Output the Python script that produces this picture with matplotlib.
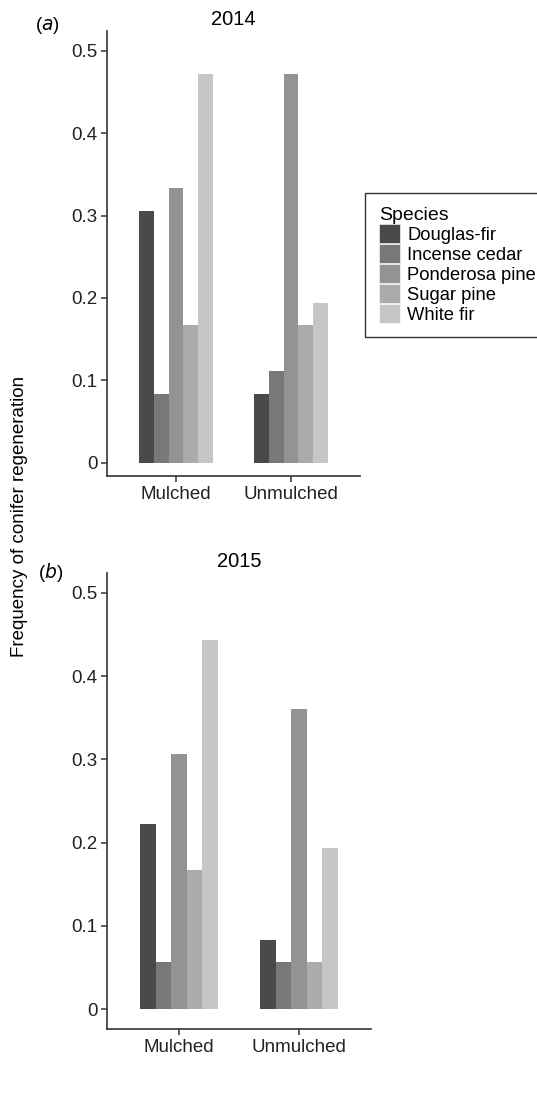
import numpy as np
import matplotlib
matplotlib.use("Agg")
import matplotlib.pyplot as plt
from matplotlib.patches import Patch

plt.rcParams['font.family'] = ['Liberation Sans', 'DejaVu Sans']

# data
treatments = ['Mulched', 'Unmulched']
species = ['Douglas-fir', 'Incense cedar', 'Ponderosa pine', 'Sugar pine', 'White fir']
colors = ['#4a4a4d', '#78787b', '#939396', '#ababae', '#c6c6c9']

freq_2014 = {
    'Douglas-fir':    [0.306, 0.083],
    'Incense cedar':  [0.083, 0.111],
    'Ponderosa pine': [0.333, 0.472],
    'Sugar pine':     [0.167, 0.167],
    'White fir':      [0.472, 0.194],
}
freq_2015 = {
    'Douglas-fir':    [0.222, 0.083],
    'Incense cedar':  [0.056, 0.056],
    'Ponderosa pine': [0.306, 0.361],
    'Sugar pine':     [0.167, 0.056],
    'White fir':      [0.444, 0.194],
}

yticks = [0, 0.1, 0.2, 0.3, 0.4, 0.5]
ytick_labels = ['0', '0.1', '0.2', '0.3', '0.4', '0.5']

W, H = 537, 1097
fig = plt.figure(figsize=(W / 100, H / 100), dpi=100)

def px_axes(x0, x1, y0, y1):
    # pixel box (top-left origin) -> figure fraction
    return fig.add_axes([x0 / W, 1 - y1 / H, (x1 - x0) / W, (y1 - y0) / H])

ax_a = px_axes(107, 360, 31, 476)
ax_b = px_axes(107, 371, 573, 1029)

bar_w = 0.13
fs = 13.5
axis_col = '#333333'

def draw_panel(ax, data, title, ybottom):
    x = np.arange(1, len(treatments) + 1)
    n = len(species)
    for i, sp in enumerate(species):
        offs = (i - (n - 1) / 2) * bar_w
        ax.bar(x + offs, data[sp], width=bar_w, color=colors[i], linewidth=0)
    ax.set_xlim(0.4, 2.6)
    ax.set_ylim(ybottom, 0.524)
    ax.set_xticks(x)
    ax.set_xticklabels(treatments, fontsize=fs, color='#222222')
    ax.set_yticks(yticks)
    ax.set_yticklabels(ytick_labels, fontsize=fs, color='#222222')
    for s in ['top', 'right']:
        ax.spines[s].set_visible(False)
    for s in ['left', 'bottom']:
        ax.spines[s].set_color(axis_col)
        ax.spines[s].set_linewidth(1.2)
    ax.tick_params(axis='both', length=4, width=1.1, color=axis_col, pad=3)
    ax.set_title(title, fontsize=14.5, pad=4)

draw_panel(ax_a, freq_2014, '2014', -0.016)
draw_panel(ax_b, freq_2015, '2015', -0.024)

fig.text(47 / W, 1 - 25 / H, r'($\it{a}$)', fontsize=fs, ha='center', va='center')
fig.text(51 / W, 1 - 573 / H, r'($\it{b}$)', fontsize=fs, ha='center', va='center')

fig.text(20 / W, 1 - 516 / H, 'Frequency of conifer regeneration', fontsize=fs,
         rotation=90, ha='center', va='center')

handles = [Patch(facecolor=c, edgecolor='white', linewidth=0.4) for c in colors]
leg = fig.legend(handles, species, loc='upper left',
                 bbox_to_anchor=(365 / W, 1 - 193 / H),
                 title='Species', fontsize=13.2, title_fontsize=14,
                 frameon=True, fancybox=False, edgecolor='black',
                 handlelength=1.15, handleheight=1.2, labelspacing=0.02,
                 handletextpad=0.4, borderpad=0.75, borderaxespad=0,
                 alignment='left')
leg.get_frame().set_linewidth(1.0)

fig.savefig('out.png', dpi=100)
